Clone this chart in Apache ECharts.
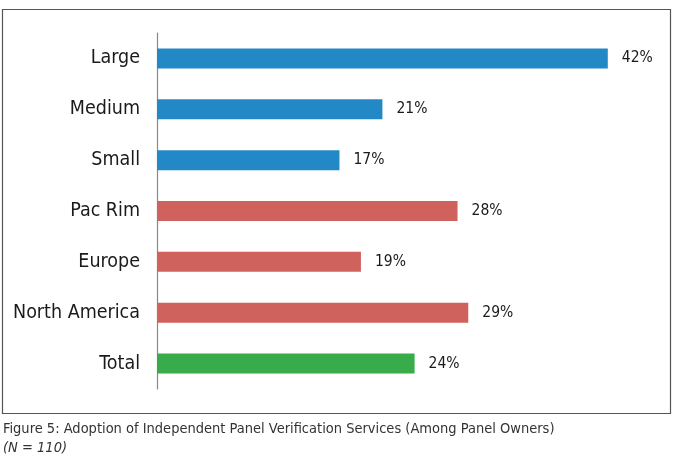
<!DOCTYPE html>
<html><head><meta charset="utf-8">
<script src="https://cdn.jsdelivr.net/npm/echarts@6/dist/echarts.min.js"></script>
<style>html,body{margin:0;padding:0;background:#fff}#c{width:675px;height:466px}</style>
</head><body><div id="c"></div>
<script>
var categories = ["Large", "Medium", "Small", "Pac Rim", "Europe", "North America", "Total"];
var values = [42, 21, 17, 28, 19, 29, 24];
var captionLine1 = "Figure 5: Adoption of Independent Panel Verification Services (Among Panel Owners)";
var captionLine2 = "(N = 110)";

var palette = ["#2389C6", "#2389C6", "#2389C6", "#CF625C", "#CF625C", "#CF625C", "#38AC4A"];
var font = "DejaVu Sans Condensed";
var chart = echarts.init(document.getElementById('c'), null, {renderer: 'canvas'});
chart.setOption({
  animation: false,
  backgroundColor: '#fff',
  textStyle: {fontFamily: font},
  graphic: [
    {type: 'rect', shape: {x: 2.5, y: 9.5, width: 668, height: 404}, style: {fill: 'none', stroke: '#555', lineWidth: 1.2}, z: -1},
    {type: 'text', left: 3, top: 422, style: {text: captionLine1, font: '14.5px "' + font + '"', fill: '#333'}},
    {type: 'text', left: 3, top: 441, style: {text: captionLine2, font: 'italic 14.5px "' + font + '"', fill: '#333'}}
  ],
  grid: {left: 157, top: 33, height: 356, width: 483},
  xAxis: {type: 'value', min: 0, max: 45, show: false},
  yAxis: {
    type: 'category', data: categories, inverse: true,
    axisLine: {lineStyle: {color: '#888', width: 1.2}},
    axisTick: {show: false},
    axisLabel: {color: '#1a1a1a', fontSize: 19.5, fontFamily: font, margin: 17, padding: [4, 0, 0, 0]}
  },
  series: [{
    type: 'bar', data: values, barWidth: 20,
    itemStyle: {color: function(p){ return palette[p.dataIndex]; }},
    label: {show: true, position: 'right', distance: 14, formatter: '{c}%', color: '#1a1a1a', fontSize: 15.5, fontFamily: font, padding: [3, 0, 0, 0]}
  }]
});
</script></body></html>
